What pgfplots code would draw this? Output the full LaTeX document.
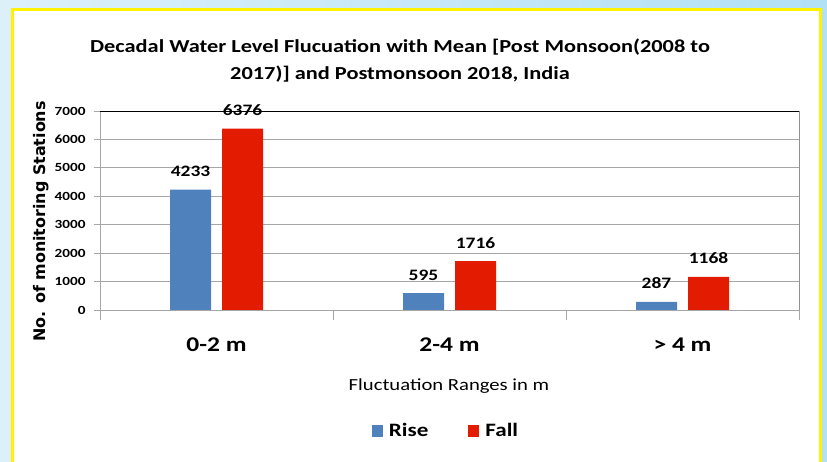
\documentclass[border=0pt]{standalone}
\usepackage{fontspec}
\setmainfont{Carlito}[FakeStretch=1.22]
\newfontfamily\labfont{DejaVu Sans}
\usepackage{pgfplots}
\pgfplotsset{compat=1.18}
\definecolor{riseblue}{HTML}{4F81BD}
\definecolor{fallred}{HTML}{E31B00}
\definecolor{bgL}{HTML}{DCF0FA}
\definecolor{bgR}{HTML}{B2E0F5}
\definecolor{ybord}{HTML}{FFF200}
\definecolor{gridgray}{HTML}{A6A6A6}
\begin{document}
\begin{tikzpicture}[x=1bp,y=1bp]
\useasboundingbox (0,0) rectangle (827,462);
\clip (0,0) rectangle (827,462);
\shade[left color=bgL, right color=bgR] (0,0) rectangle (827,462);
\filldraw[fill=white, draw=ybord, line width=3bp] (12,-5) rectangle (820,452);
\node[align=center, font=\bfseries\fontsize{18.4}{27}\selectfont] at (400,401.5)
  {Decadal Water Level Flucuation with Mean [Post Monsoon(2008 to\\2017)] and Postmonsoon 2018, India};
\begin{axis}[
  at={(100bp,152bp)}, anchor=south west,
  scale only axis, width=699bp, height=199bp,
  ybar, bar width=41bp,
  xmin=-0.5, xmax=2.5, ymin=0, ymax=7000,
  ytick={0,1000,...,7000},
  ymajorgrids, grid style={gridgray, line width=0.8bp},
  axis line style={gridgray, line width=0.8bp},
  xtick={0,1,2}, xticklabels={0-2 m,2-4 m,{> 4 m}},
  major x tick style={draw=none},
  extra x ticks={-0.5,0.5,1.5,2.5}, extra x tick labels={},
  extra x tick style={major tick length=10bp, tick align=outside, grid=none, major x tick style={draw=gridgray, line width=0.8bp}},
  ytick pos=left, xtick pos=bottom,
  tick align=outside, major tick length=6bp,
  y tick style={gridgray, line width=0.8bp},
  /pgf/number format/assume math mode=true,
  /pgf/number format/1000 sep={},
  yticklabel style={font=\bfseries\fontsize{12.5}{14}\selectfont, xshift=-5bp},
  xticklabel style={font=\bfseries\fontsize{21}{24}\selectfont, yshift=-18bp},
  xlabel={Fluctuation Ranges in m},
  xlabel style={font=\fontsize{17}{20}\selectfont, at={(axis description cs:0.4993,-0.382)}, anchor=center},
  ylabel={No. of monitoring Stations},
  ylabel style={font=\labfont\bfseries\fontsize{16}{18}\selectfont, at={(axis description cs:-0.0844,0.445)}, anchor=center},
  nodes near coords,
  every node near coord/.append style={font=\bfseries\fontsize{16}{18}\selectfont, anchor=base, yshift=13bp, text=black, /pgf/number format/assume math mode=true, /pgf/number format/1000 sep={}},
  legend style={at={(axis description cs:0.495,-0.608)}, anchor=center, draw=none, fill=none, legend columns=2,
    font=\bfseries\fontsize{19}{21}\selectfont,
    /tikz/every odd column/.append style={column sep=4bp},
    /tikz/every even column/.append style={column sep=38bp}},
  legend image code/.code={\fill[#1] (0bp,-6bp) rectangle (11bp,6bp);},
]
\addplot[fill=riseblue, draw=none, bar shift=-26bp] coordinates {(0,4233) (1,595) (2,287)};
\addplot[fill=fallred, draw=none, bar shift=26bp] coordinates {(0,6376) (1,1716) (2,1168)};
\legend{Rise,Fall}
\draw[black, line width=0.9bp] (rel axis cs:0,1) -- (rel axis cs:1,1) -- (rel axis cs:1,0);
\end{axis}
\end{tikzpicture}
\end{document}
